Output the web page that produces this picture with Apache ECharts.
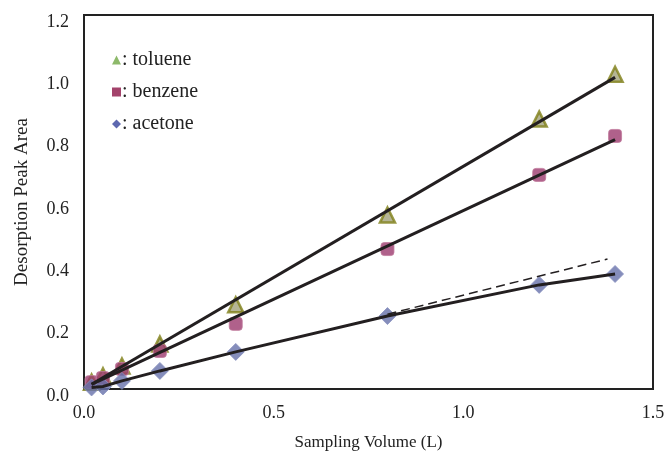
<!DOCTYPE html>
<html lang="en">
<head>
    <meta charset="UTF-8">
    <title>Desorption Peak Area</title>
    <script src="https://cdn.jsdelivr.net/npm/echarts@6/dist/echarts.min.js"></script>
    <style>
        body { margin: 0; background: #fff; }
    </style>
</head>
<body>
<div id="main" style="width: 668px;height:454px;"></div>
<script>
    // sampling volume (L)
    let volumes = [0.02, 0.05, 0.1, 0.2, 0.4, 0.8, 1.2, 1.4];
    let toluene = [0.022, 0.042, 0.074, 0.144, 0.270, 0.558, 0.866, 1.010];
    let benzene = [0.022, 0.035, 0.064, 0.122, 0.209, 0.449, 0.687, 0.812];
    let acetone = [0.005, 0.008, 0.026, 0.058, 0.119, 0.234, 0.334, 0.369];

    // fitted lines (end points)
    let tolueneFit = [[0.02, 0.015], [1.4, 1.0]];
    let benzeneFit = [[0.02, 0.015], [1.4, 0.80]];
    let acetoneDash = [[0.8, 0.24], [1.38, 0.417]];

    let xTicks = [0, 0.5, 1.0, 1.5];
    let yTicks = [0, 0.2, 0.4, 0.6, 0.8, 1.0, 1.2];

    function pairs(ys) {
        return volumes.map(function (x, i) { return [x, ys[i]]; });
    }

    let font = 'Liberation Serif';
    let myChart = echarts.init(document.getElementById('main'));
    let option = {
        animation: false,
        backgroundColor: '#fff',
        grid: {
            left: 84, right: 15, top: 15, bottom: 65,
            outerBoundsMode: 'none',
            containLabel: false,
            show: true,
            borderColor: '#222',
            borderWidth: 2
        },
        legend: {
            orient: 'vertical',
            left: 107,
            top: 45,
            itemGap: 12,
            itemWidth: 9,
            itemHeight: 9,
            selectedMode: false,
            textStyle: { fontFamily: font, fontSize: 20, color: '#222', padding: [0, 0, 0, -4] },
            formatter: function (name) { return ': ' + name; },
            data: [
                { name: 'toluene', icon: 'triangle', itemStyle: { color: '#70a845', borderWidth: 0 } },
                { name: 'benzene', icon: 'rect', itemStyle: { color: '#8c1446', borderWidth: 0 } },
                { name: 'acetone', icon: 'diamond', itemStyle: { color: '#34429c', borderWidth: 0 } }
            ]
        },
        xAxis: {
            type: 'value',
            min: xTicks[0],
            max: xTicks[xTicks.length - 1],
            interval: 0.5,
            name: 'Sampling Volume (L)',
            nameLocation: 'middle',
            nameGap: 45,
            nameTextStyle: { fontFamily: font, fontSize: 17, color: '#222' },
            axisLine: { lineStyle: { color: '#222', width: 2 } },
            axisTick: { show: false },
            splitLine: { show: false },
            axisLabel: {
                margin: 15,
                fontFamily: font, fontSize: 18, color: '#222',
                formatter: function (v) { return v.toFixed(1); }
            }
        },
        yAxis: {
            type: 'value',
            min: yTicks[0],
            max: yTicks[yTicks.length - 1],
            interval: 0.2,
            name: 'Desorption Peak Area',
            nameLocation: 'middle',
            nameGap: 52,
            nameTextStyle: { fontFamily: font, fontSize: 19, color: '#222' },
            axisLine: { lineStyle: { color: '#222', width: 2 } },
            axisTick: { show: false },
            splitLine: { show: false },
            axisLabel: {
                margin: 15,
                verticalAlign: 'top',
                lineHeight: 14,
                fontFamily: font, fontSize: 18, color: '#222',
                formatter: function (v) { return v.toFixed(1); }
            }
        },
        series: [
            {
                name: 'toluene',
                type: 'scatter',
                symbol: 'triangle',
                symbolSize: 15,
                itemStyle: { color: '#a3a27a', borderColor: '#808018', borderWidth: 2.5 },
                data: pairs(toluene),
                z: 2
            },
            {
                name: 'benzene',
                type: 'scatter',
                symbol: 'roundRect',
                symbolSize: 13,
                itemStyle: { color: '#9c3a6e', borderColor: '#c07a9c', borderWidth: 1 },
                data: pairs(benzene),
                z: 2
            },
            {
                name: 'acetone',
                type: 'scatter',
                symbol: 'diamond',
                symbolSize: 17,
                itemStyle: { color: '#6670aa', borderColor: '#8a92c0', borderWidth: 1 },
                data: pairs(acetone),
                z: 2
            },
            {
                type: 'line',
                data: tolueneFit,
                showSymbol: false,
                lineStyle: { color: '#231f20', width: 3 },
                z: 5
            },
            {
                type: 'line',
                data: benzeneFit,
                showSymbol: false,
                lineStyle: { color: '#231f20', width: 3 },
                z: 5
            },
            {
                type: 'line',
                data: pairs(acetone),
                showSymbol: false,
                lineStyle: { color: '#231f20', width: 3 },
                z: 5
            },
            {
                type: 'line',
                data: acetoneDash,
                showSymbol: false,
                lineStyle: { color: '#231f20', width: 1.5, type: [9, 5] },
                z: 5
            }
        ]
    };
    myChart.setOption(option);
</script>
</body>
</html>
